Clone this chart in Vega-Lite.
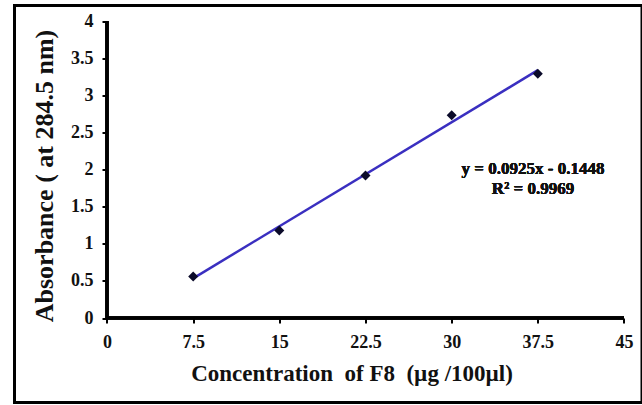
{
  "$schema": "https://vega.github.io/schema/vega-lite/v6.json",
  "width": 627.5,
  "height": 397,
  "autosize": {"type": "none"},
  "padding": {"left": 14.5, "top": 5.5, "right": 0, "bottom": 2.5},
  "background": "white",
  "config": {
    "view": {"stroke": "black", "strokeWidth": 3},
    "font": "Liberation Serif",
    "axis": {
      "grid": false,
      "domain": false,
      "tickColor": "black",
      "tickWidth": 2,
      "tickSize": 5,
      "labelFont": "Liberation Serif",
      "labelFontWeight": "bold",
      "labelFontSize": 18,
      "labelColor": "#111111",
      "titleFont": "Liberation Serif",
      "titleFontWeight": "bold",
      "titleColor": "#111111"
    }
  },
  "data": {
    "values": [
      {"conc": 7.5, "abs": 0.56},
      {"conc": 15, "abs": 1.18},
      {"conc": 22.5, "abs": 1.92},
      {"conc": 30, "abs": 2.73},
      {"conc": 37.5, "abs": 3.29}
    ]
  },
  "layer": [
    {
      "mark": {"type": "rule", "color": "black", "strokeWidth": 3},
      "encoding": {
        "x": {"datum": 0, "type": "quantitative"},
        "y": {"datum": 0, "type": "quantitative"},
        "y2": {"datum": 4}
      }
    },
    {
      "mark": {"type": "rule", "color": "black", "strokeWidth": 3},
      "encoding": {
        "y": {"datum": 0, "type": "quantitative"},
        "x": {"datum": 0, "type": "quantitative"},
        "x2": {"datum": 45}
      }
    },
    {
      "transform": [{"regression": "abs", "on": "conc", "extent": [7.5, 37.5]}],
      "mark": {"type": "line", "color": "#3a2fc0", "strokeWidth": 2.5},
      "encoding": {
        "x": {"field": "conc", "type": "quantitative"},
        "y": {"field": "abs", "type": "quantitative"}
      }
    },
    {
      "mark": {"type": "point", "shape": "diamond", "filled": true, "size": 100, "color": "#0b0b2a", "opacity": 1},
      "encoding": {
        "x": {
          "field": "conc",
          "type": "quantitative",
          "scale": {"domain": [-8.051, 46.567], "nice": false, "zero": false},
          "axis": {
            "title": "Concentration\u00a0 of F8\u00a0 (µg /100µl)",
            "titleFontSize": 23,
            "values": [0, 7.5, 15, 22.5, 30, 37.5, 45],
            "labelExpr": "datum.value + ''",
            "offset": -84.5,
            "labelPadding": 10,
            "titleX": 337,
            "titleY": 62,
            "titleBaseline": "alphabetic",
            "titleAlign": "center"
          }
        },
        "y": {
          "field": "abs",
          "type": "quantitative",
          "scale": {"domain": [-1.138, 4.2088], "nice": false, "zero": false},
          "axis": {
            "title": "Absorbance ( at 284.5 nm)",
            "titleFontSize": 26,
            "values": [0, 0.5, 1, 1.5, 2, 2.5, 3, 3.5, 4],
            "labelExpr": "datum.value + ''",
            "offset": -92.5,
            "labelPadding": 9,
            "titleX": -55,
            "titleY": 170,
            "titleBaseline": "alphabetic",
            "titleAlign": "center",
            "titleAngle": -90
          }
        }
      }
    },
    {
      "mark": {
        "type": "text",
        "text": ["y = 0.0925x - 0.1448", "R² = 0.9969"],
        "font": "Liberation Serif",
        "fontWeight": "bold",
        "fontSize": 17,
        "lineHeight": 20,
        "align": "center",
        "baseline": "alphabetic",
        "color": "#111111"
      },
      "encoding": {
        "x": {"datum": 37.08, "type": "quantitative"},
        "y": {"datum": 1.939, "type": "quantitative"}
      }
    }
  ]
}
